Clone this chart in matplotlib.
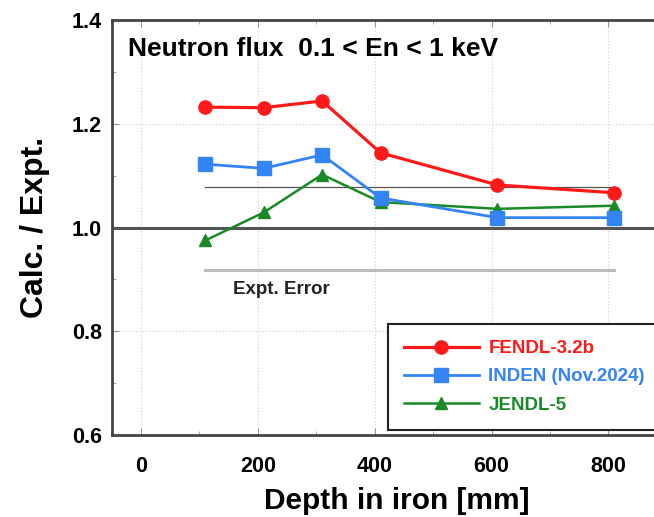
import matplotlib
matplotlib.use('Agg')
import matplotlib.pyplot as plt
from matplotlib.ticker import MultipleLocator

plt.rcParams['font.family'] = ['Liberation Sans', 'DejaVu Sans']

# datos
depth = [110, 210, 310, 410, 610, 810]
fendl = [1.232, 1.231, 1.244, 1.144, 1.082, 1.067]
inden = [1.122, 1.114, 1.140, 1.057, 1.019, 1.019]
jendl = [0.975, 1.029, 1.102, 1.049, 1.036, 1.042]
err_x = [110, 810]
err_up = 1.078
err_lo = 0.918

names = ['FENDL-3.2b', 'INDEN (Nov.2024)', 'JENDL-5']
colores = ['#ff1a1a', '#3384f5', '#1a8a28']

fig = plt.figure(figsize=(6.54, 5.17), dpi=100)
ax = fig.add_axes([0.171, 0.1586, 0.8486, 0.8027])

ax.set_xlim(-50, 900)
ax.set_ylim(0.6, 1.4)
ax.xaxis.set_major_locator(MultipleLocator(200))
ax.xaxis.set_minor_locator(MultipleLocator(100))
ax.yaxis.set_major_locator(MultipleLocator(0.2))
ax.yaxis.set_minor_locator(MultipleLocator(0.1))
ax.grid(True, which='major', ls=(0, (1, 2)), color='#cccccc', lw=0.8)
ax.tick_params(which='both', direction='in', top=True, right=True, color='#999999')
ax.tick_params(which='major', length=5, labelsize=15.5)
ax.tick_params(axis='y', which='major', pad=7)
ax.tick_params(axis='x', which='major', pad=15)
ax.tick_params(which='minor', length=3)
ax.yaxis.set_major_formatter(plt.FuncFormatter(lambda v, p: '%.1f' % v))
for lb in ax.get_xticklabels() + ax.get_yticklabels():
    lb.set_fontweight('bold')
for s in ax.spines.values():
    s.set_color('#444444')
    s.set_linewidth(2)

# linea de referencia y error experimental
ax.axhline(1.0, color='#555555', lw=2.2, zorder=2)
ax.plot(err_x, [err_up, err_up], color='#555555', lw=0.9, zorder=2)
ax.plot(err_x, [err_lo, err_lo], color='#bbbbbb', lw=2.2, zorder=2)
ax.text(157, 0.897, 'Expt. Error', fontsize=13.5, fontweight='bold', va='top', color='#222222')

ax.plot(depth, fendl, '-o', color=colores[0], lw=2.3, ms=9.5, label=names[0], zorder=5)
ax.plot(depth, inden, '-s', color=colores[1], lw=2.0, ms=9.5, label=names[1], zorder=4)
ax.plot(depth, jendl, '-^', color=colores[2], lw=1.8, ms=9, label=names[2], zorder=3)

ax.text(-22, 1.368, 'Neutron flux  0.1 < En < 1 keV', fontsize=19, fontweight='bold', va='top')

ax.set_xlabel('Depth in iron [mm]', fontsize=21.5, fontweight='bold')
ax.set_ylabel('Calc. / Expt.', fontsize=23, fontweight='bold')
ax.xaxis.set_label_coords(0.513, -0.125)
ax.yaxis.set_label_coords(-0.112, 0.5)

leg = ax.legend(loc='upper left', bbox_to_anchor=(388 / 654, 1 - 324 / 517),
                bbox_transform=fig.transFigure, fancybox=False, framealpha=1,
                edgecolor='#222222', fontsize=13.5, handlelength=4.0,
                borderpad=0.85, borderaxespad=0, labelspacing=0.6,
                handletextpad=0.5)
leg.get_frame().set_linewidth(1.5)
for t, c in zip(leg.get_texts(), colores):
    t.set_color(c)
    t.set_fontweight('bold')

fig.savefig('out.png', dpi=100)
